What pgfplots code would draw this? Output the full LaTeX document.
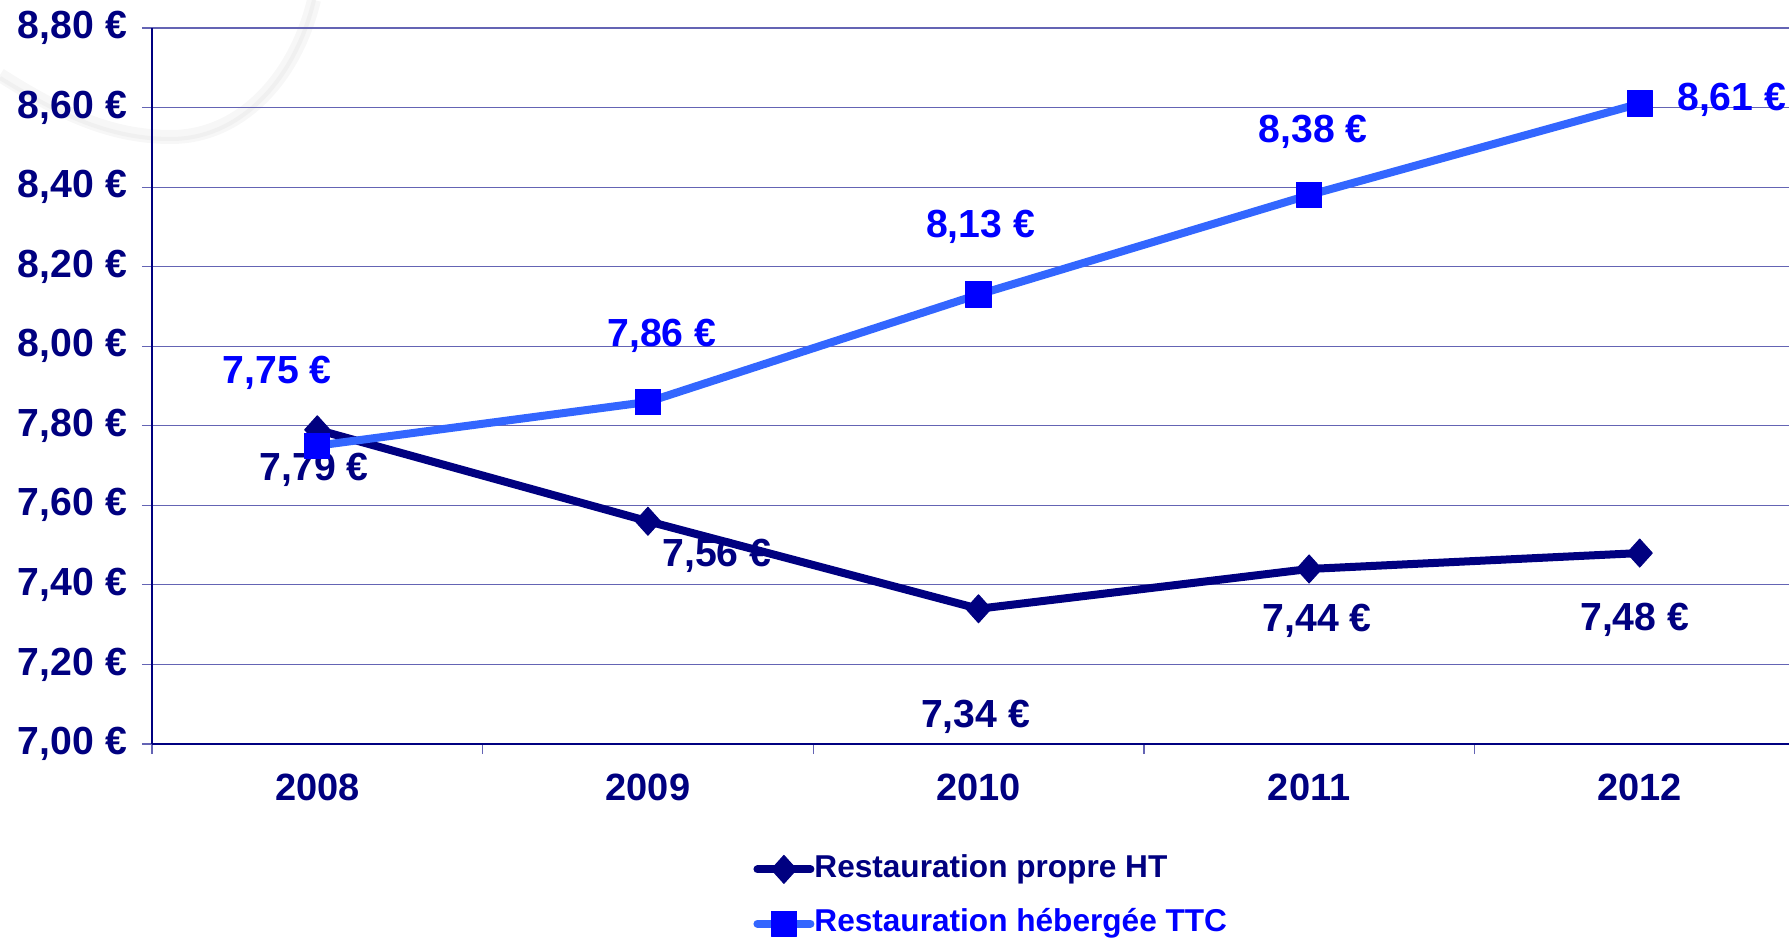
\documentclass[border=0pt]{standalone}
\usepackage{fontspec}
\setmainfont{Liberation Sans}
\usepackage{pgfplots}
\pgfplotsset{compat=1.18}
\definecolor{navyc}{RGB}{0,0,128}
\definecolor{lblue}{RGB}{51,102,255}
\definecolor{pblue}{RGB}{0,0,255}
\definecolor{gridc}{RGB}{100,100,180}
\newcommand{\lab}{\fontsize{19.6}{22}\selectfont\bfseries}
\begin{document}
\begin{tikzpicture}
\draw[line width=7pt, color=black!3] (0,432pt) .. controls (30pt,413pt) and (55pt,401pt) .. (85.5pt,401pt) .. controls (120pt,401pt) and (147.5pt,430pt) .. (157pt,469.5pt);
\draw[line width=2pt, color=black!6] (0,430.5pt) .. controls (30pt,412pt) and (55pt,400pt) .. (85.5pt,400pt) .. controls (120pt,400pt) and (147.5pt,429.5pt) .. (157pt,469.5pt);
\begin{axis}[
  at={(76pt,97.5pt)}, anchor=south west,
  scale only axis, width=826.5pt, height=358pt,
  xmin=-0.5, xmax=4.5, ymin=7, ymax=8.8,
  axis lines=left, axis line style={-, navyc, line width=1pt},
  clip=false,
  xtick={0,1,2,3,4}, xticklabels={2008,2009,2010,2011,2012},
  minor xtick={-0.5,0.5,1.5,2.5,3.5,4.5},
  ytick={7,7.2,7.4,7.6,7.8,8,8.2,8.4,8.6,8.8},
  tick align=outside,
  major tick length=5pt, minor tick length=5pt,
  major x tick style={draw=none},
  minor x tick style={gridc, line width=0.7pt},
  major y tick style={gridc, line width=0.6pt},
  ymajorgrids, major grid style={gridc, line width=0.6pt},
  /pgf/number format/assume math mode=true,
  yticklabel={\pgfmathprintnumber[fixed,fixed zerofill,precision=2,use comma]{\tick}~€},
  yticklabel style={font=\fontsize{19.6}{22}\selectfont\bfseries, text=navyc, xshift=-4pt},
  xticklabel style={font=\fontsize{19}{22}\selectfont\bfseries, text=navyc, yshift=-6.3pt},
  legend style={at={(axis description cs:0.3636,-0.155)}, anchor=north west,
    draw=none, fill=none, inner sep=0pt,
    font=\fontsize{15.8}{18}\selectfont\bfseries,
    nodes={inner sep=0pt, text height=11pt, text depth=3pt},
    row sep=13.2pt},
  legend cell align=left,
  legend image code/.code={\draw[mark repeat=2,mark phase=2,#1] plot coordinates {(2pt,0pt) (15.25pt,0pt) (28.5pt,0pt)};},
]
\addplot[navyc, line width=4pt, line cap=round, line join=round,
  mark=diamond*, mark size=7pt, mark options={solid, fill=navyc, draw=navyc, line width=0.5pt, xscale=1.2}]
  coordinates {(0,7.79) (1,7.56) (2,7.34) (3,7.44) (4,7.48)};
\addlegendentry{\textcolor{navyc}{Restauration propre HT}}
\node[text=navyc, font=\lab, xshift=-1.5pt, yshift=-20pt] at (axis cs:0,7.79) {7,79 €};
\node[text=navyc, font=\lab, xshift=34.5pt, yshift=-17.5pt] at (axis cs:1,7.56) {7,56 €};
\node[text=navyc, font=\lab, xshift=-1.5pt, yshift=-54pt] at (axis cs:2,7.34) {7,34 €};
\node[text=navyc, font=\lab, xshift=4pt, yshift=-26pt] at (axis cs:3,7.44) {7,44 €};
\node[text=navyc, font=\lab, xshift=-2.5pt, yshift=-33.5pt] at (axis cs:4,7.48) {7,48 €};
\addplot[lblue, line width=4pt, line cap=round, line join=round,
  mark=square*, mark size=6.3pt, mark options={solid, fill=pblue, draw=pblue, line width=0.5pt}]
  coordinates {(0,7.75) (1,7.86) (2,8.13) (3,8.38) (4,8.61)};
\addlegendentry{\textcolor{pblue}{Restauration hébergée TTC}}
\node[text=pblue, font=\lab, xshift=-20pt, yshift=36.5pt] at (axis cs:0,7.75) {7,75 €};
\node[text=pblue, font=\lab, xshift=7pt, yshift=33pt] at (axis cs:1,7.86) {7,86 €};
\node[text=pblue, font=\lab, xshift=1pt, yshift=34pt] at (axis cs:2,8.13) {8,13 €};
\node[text=pblue, font=\lab, xshift=2pt, yshift=31.5pt] at (axis cs:3,8.38) {8,38 €};
\node[text=pblue, font=\lab, xshift=46pt, yshift=2pt] at (axis cs:4,8.61) {8,61 €};
\end{axis}
\pgfresetboundingbox
\useasboundingbox (0,0) rectangle (894.5pt,469.5pt);
\end{tikzpicture}
\end{document}
